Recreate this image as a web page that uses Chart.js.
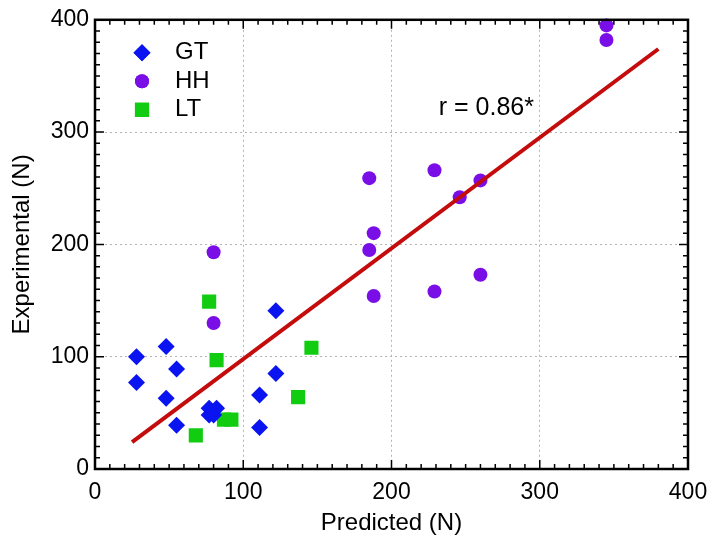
<!DOCTYPE html>
<html lang="en">
  <head>
    <meta charset="utf-8" />
    <script src="https://cdn.jsdelivr.net/npm/chart.js@4.4.0/dist/chart.umd.min.js"></script>
    <style>
      body { margin: 0; background: #fff; }
    </style>
    <title>Predicted vs Experimental</title>
  </head>
  <body>
    <canvas id="chart" width="722" height="549"></canvas>
    <script>
      // axis ticks
      const tickValues = [0, 100, 200, 300, 400];

      // GT - diamonds
      const gtX = [28, 28, 48, 55, 48, 55, 77, 82, 77, 80, 122, 122, 111, 111];
      const gtY = [100, 77, 109, 89, 63, 39, 54, 54, 48, 48, 141, 85, 66, 37];

      // HH - circles
      const hhX = [80, 80, 185, 188, 185, 188, 229, 229, 246, 260, 260, 345, 345];
      const hhY = [193, 130, 259, 210, 195, 154, 266, 158, 242, 257, 173, 395, 382];

      // LT - squares
      const ltX = [77, 82, 146, 137, 68, 87, 92];
      const ltY = [149, 97, 108, 64, 30, 44, 44];

      // regression line
      const fitX = [25, 380];
      const fitY = [24, 374];
      const fitLabel = 'r = 0.86*';

      const FONT = "'Liberation Sans', Arial, sans-serif";

      function pts(xs, ys) {
        return xs.map((x, i) => ({ x: x, y: ys[i] }));
      }

      const legendItems = [
        { text: 'GT', style: 'rectRot', radius: 8.5, color: '#0a14f0' },
        { text: 'HH', style: 'circle', radius: 7, color: '#7a0ee6' },
        { text: 'LT', style: 'rect', radius: 10, color: '#12cc12' }
      ];

      // box frame with inward ticks on all sides, legend and r label
      const framePlugin = {
        id: 'frame',
        afterDraw(chart) {
          const ctx = chart.ctx;
          const xs = chart.scales.x, ys = chart.scales.y;
          const a = chart.chartArea;
          ctx.save();
          ctx.strokeStyle = '#000';
          ctx.lineWidth = 1.5;
          for (let v = 0; v <= 400; v += 10) {
            const len = v % 100 === 0 ? 9 : 5;
            const px = xs.getPixelForValue(v);
            const py = ys.getPixelForValue(v);
            ctx.beginPath();
            ctx.moveTo(px, a.bottom); ctx.lineTo(px, a.bottom - len);
            ctx.moveTo(px, a.top); ctx.lineTo(px, a.top + len);
            ctx.moveTo(a.left, py); ctx.lineTo(a.left + len, py);
            ctx.moveTo(a.right, py); ctx.lineTo(a.right - len, py);
            ctx.stroke();
          }
          ctx.lineWidth = 2.5;
          ctx.strokeRect(a.left, a.top, a.right - a.left, a.bottom - a.top);

          // legend
          ctx.font = '24px ' + FONT;
          ctx.textBaseline = 'middle';
          ctx.textAlign = 'left';
          legendItems.forEach((it, i) => {
            const y = a.top + 33 + i * 28.5;
            ctx.fillStyle = it.color;
            Chart.helpers.drawPoint(ctx, { pointStyle: it.style, radius: it.radius, borderWidth: 0 }, a.left + 47, y);
            ctx.fill();
            ctx.fillStyle = '#000';
            ctx.fillText(it.text, a.left + 80, y);
          });

          // r label
          ctx.font = '25px ' + FONT;
          ctx.textAlign = 'center';
          ctx.fillText(fitLabel, xs.getPixelForValue(264), ys.getPixelForValue(321));
          ctx.restore();
        }
      };

      const axisCommon = {
        type: 'linear',
        min: 0,
        max: 400,
        afterBuildTicks: s => { s.ticks = tickValues.map(v => ({ value: v })); },
        grid: { color: '#b4b4b4', lineWidth: 1, drawTicks: false },
        border: { display: false, dash: [2, 3] }
      };

      new Chart(document.getElementById('chart').getContext('2d'), {
        type: 'scatter',
        data: {
          datasets: [
            {
              label: 'fit',
              data: pts(fitX, fitY),
              showLine: true,
              borderColor: '#c40c0c',
              borderWidth: 4,
              pointRadius: 0,
              fill: false
            },
            {
              label: 'GT',
              data: pts(gtX, gtY),
              pointStyle: 'rectRot',
              pointRadius: 8.5,
              backgroundColor: '#0a14f0',
              borderWidth: 0
            },
            {
              label: 'HH',
              data: pts(hhX, hhY),
              pointStyle: 'circle',
              pointRadius: 7,
              backgroundColor: '#7a0ee6',
              borderWidth: 0,
              clip: false
            },
            {
              label: 'LT',
              data: pts(ltX, ltY),
              pointStyle: 'rect',
              pointRadius: 10,
              backgroundColor: '#12cc12',
              borderWidth: 0
            }
          ]
        },
        options: {
          responsive: false,
          animation: false,
          layout: { padding: { left: 0, right: 34, top: 18, bottom: 0 } },
          plugins: { legend: { display: false }, tooltip: { enabled: false } },
          scales: {
            x: Object.assign({}, axisCommon, {
              ticks: { color: '#000', font: { family: FONT, size: 23 }, padding: 10 },
              title: { display: true, text: 'Predicted (N)', color: '#000', font: { family: FONT, size: 24 }, padding: { top: 0, bottom: 11 } },
              afterFit: s => { s.height = 80; }
            }),
            y: Object.assign({}, axisCommon, {
              ticks: { color: '#000', font: { family: FONT, size: 23 }, padding: 6 },
              title: { display: true, text: 'Experimental (N)', color: '#000', font: { family: FONT, size: 24 }, padding: { top: 8, bottom: 0 } },
              afterFit: s => { s.width = 95; }
            })
          }
        },
        plugins: [framePlugin]
      });
    </script>
  </body>
</html>
